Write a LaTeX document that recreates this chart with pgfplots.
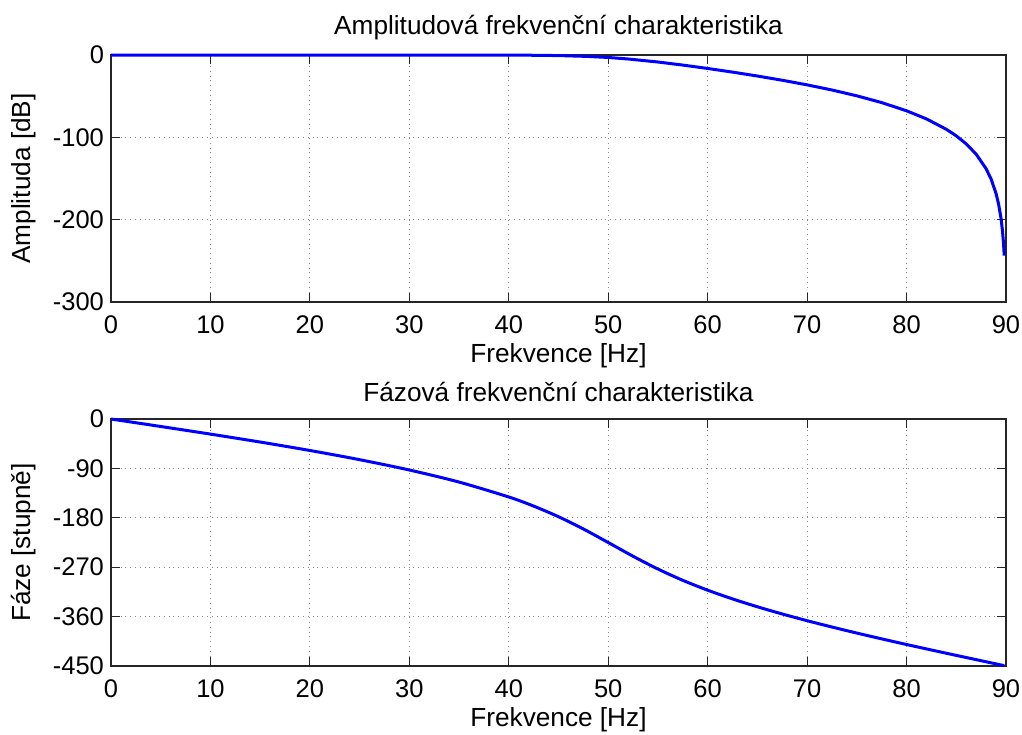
\documentclass[border=0pt]{standalone}
\usepackage{fontspec}
\setmainfont{Liberation Sans}
\usepackage{pgfplots}
\usepackage{pgfplotstable}
\pgfplotsset{compat=1.18}

\pgfplotstableread{
f dB
0 0
10 0
20 -0.00003
30 -0.0031
35 -0.0212
40 -0.128
42 -0.256
45 -0.693
48 -1.743
50 -3.010
52 -4.831
55 -8.517
57.5 -12.230
60 -16.340
62.5 -20.770
65 -25.527
67.5 -30.662
70 -36.276
72.5 -42.509
75 -49.576
77.5 -57.806
80 -67.750
82 -77.601
84 -90.219
85 -98.186
86 -107.917
87 -120.442
88 -138.073
88.5 -150.575
89 -168.189
89.25 -180.685
89.5 -198.296
89.65 -213.786
89.75 -228.399
89.824 -243.64
}\amptable

\pgfplotstableread{
f ph
0 0
5 -13.62
10 -27.51
15 -41.97
20 -57.33
25 -74.09
30 -92.90
35 -114.89
40 -142.07
42.5 -158.66
45 -178.00
47.5 -200.35
50 -225.00
52.5 -250.04
55 -273.32
57.5 -293.89
60 -311.86
62.5 -327.75
65 -342.07
67.5 -355.20
70 -367.44
72 -376.71
75 -389.98
78 -402.61
80 -410.81
82 -418.83
84 -426.73
85 -430.65
86 -434.54
88 -442.28
89.824 -449.32
}\phasetable

\newcommand{\fs}{\fontsize{12.75}{15}\selectfont}
\newcommand{\fl}{\fontsize{13.1}{15.5}\selectfont}

\pgfplotsset{
  every axis title/.style={at={(axis description cs:0.5,1.11)}, anchor=center, font=\fl},
  every axis x label/.style={at={(axis description cs:0.5,-0.218)}, anchor=center, font=\fl},
  every axis y label/.style={at={(axis description cs:-0.0972,0.5)}, anchor=center, rotate=90, font=\fl},
  mystyle/.style={
    scale only axis, width=447.5pt, height=123.5pt,
    xmin=0, xmax=90, xtick={0,10,...,90},
    grid=major,
    major grid style={dotted, line width=0.5pt, black!45},
    axis line style={black!85, line width=0.6pt},
    tick style={black!85, line width=0.6pt},
    major tick length=4.5pt,
    tick align=inside,
    ticklabel style={font=\fs},
    xticklabel style={yshift=-3.2pt},
    /pgf/number format/assume math mode=true,
    clip=false,
  }
}

\begin{document}
\begin{tikzpicture}
\useasboundingbox (0,0) rectangle (511pt,-367pt);
\begin{axis}[mystyle, at={(55.5pt,-151pt)}, anchor=south west,
  ymin=-300, ymax=0, ytick={-300,-200,-100,0},
  title={Amplitudová frekvenční charakteristika},
  xlabel={Frekvence [Hz]}, ylabel={Amplituda [dB]}]
\addplot[blue, line width=1.5pt, line join=round] table[x=f, y=dB] {\amptable};
\end{axis}
\begin{axis}[mystyle, at={(55.5pt,-333pt)}, anchor=south west,
  ymin=-450, ymax=0, ytick={-450,-360,-270,-180,-90,0},
  title={Fázová frekvenční charakteristika},
  xlabel={Frekvence [Hz]}, ylabel={Fáze [stupně]}]
\addplot[blue, line width=1.5pt, smooth, line join=round] table[x=f, y=ph] {\phasetable};
\end{axis}
\end{tikzpicture}
\end{document}
